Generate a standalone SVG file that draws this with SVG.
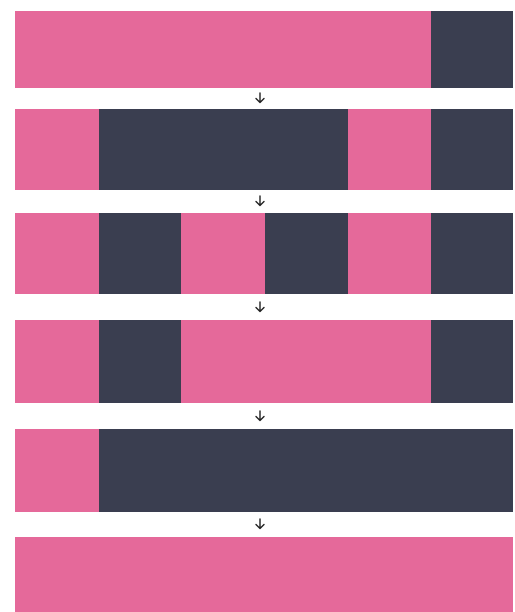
<svg xmlns="http://www.w3.org/2000/svg" width="515" height="612" viewBox="0 0 515 612">
<style>
.p{fill:#e5699a}
.d{fill:#3a3e50}
.a{stroke:#222;stroke-width:1.4;fill:none;stroke-linecap:round;stroke-linejoin:round}
</style>
<defs>
<g id="arr"><path class="a" d="M0,-5 V4.5 M-4,0.5 L0,4.5 L4,0.5"/></g>
</defs>
<rect width="515" height="612" fill="#fff"/>
<g id="row1">
<rect class="p" x="15" y="11" width="416" height="77"/>
<rect class="d" x="431" y="11" width="82" height="77"/>
</g>
<g id="row2">
<rect class="p" x="15" y="109" width="84" height="81"/>
<rect class="d" x="99" y="109" width="249" height="81"/>
<rect class="p" x="348" y="109" width="83" height="81"/>
<rect class="d" x="431" y="109" width="82" height="81"/>
</g>
<g id="row3">
<rect class="p" x="15" y="213" width="84" height="81"/>
<rect class="d" x="99" y="213" width="82" height="81"/>
<rect class="p" x="181" y="213" width="84" height="81"/>
<rect class="d" x="265" y="213" width="83" height="81"/>
<rect class="p" x="348" y="213" width="83" height="81"/>
<rect class="d" x="431" y="213" width="82" height="81"/>
</g>
<g id="row4">
<rect class="p" x="15" y="320" width="84" height="83"/>
<rect class="d" x="99" y="320" width="82" height="83"/>
<rect class="p" x="181" y="320" width="250" height="83"/>
<rect class="d" x="431" y="320" width="82" height="83"/>
</g>
<g id="row5">
<rect class="p" x="15" y="429" width="84" height="83"/>
<rect class="d" x="99" y="429" width="414" height="83"/>
</g>
<g id="row6">
<rect class="p" x="15" y="537" width="498" height="75"/>
</g>
<g id="connectors">
<use href="#arr" x="260" y="98"/>
<use href="#arr" x="260" y="201"/>
<use href="#arr" x="260" y="307"/>
<use href="#arr" x="260" y="416"/>
<use href="#arr" x="260" y="524"/>
</g>
</svg>
